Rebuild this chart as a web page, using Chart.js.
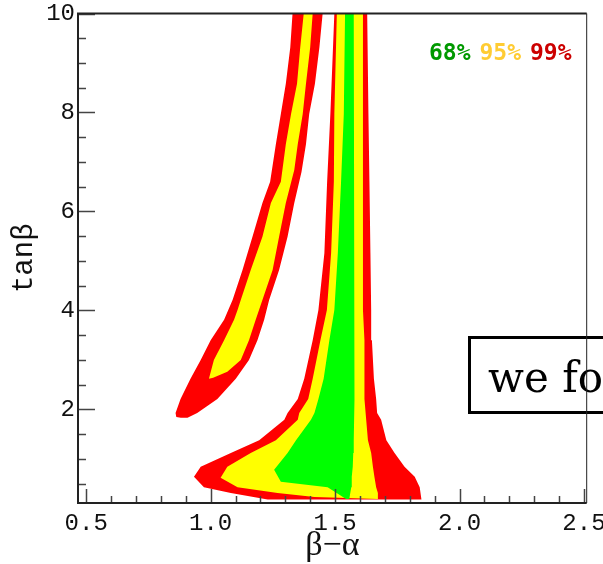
<!DOCTYPE html>
<html>
<head>
<meta charset="utf-8">
<script src="https://cdn.jsdelivr.net/npm/chart.js@4.4.1/dist/chart.umd.min.js"></script>
<style>
  html, body { margin: 0; padding: 0; background: #fff; }
  #wrap { width: 603px; height: 564px; }
</style>
</head>
<body>
<div id="wrap"><canvas id="chart" width="603" height="564"></canvas></div>
<script>
// confidence levels and their legend colours
const levels = ['68%', '95%', '99%'];
const legendColors = ['#009900', '#ffcc33', '#cc0000'];

// axis ticks
const xTicks = [0.5, 1.0, 1.5, 2.0, 2.5];
const yTicks = [2, 4, 6, 8, 10];

// contour outlines [beta-alpha, tanbeta]
// left (curved) band
const red99Left = [
  [1.329, 10], [1.320, 9.32], [1.302, 8.58], [1.282, 7.97], [1.262, 7.36],
  [1.239, 6.60], [1.208, 6.17], [1.168, 5.49], [1.128, 4.82], [1.088, 4.21],
  [1.054, 3.81], [1.000, 3.40], [0.960, 3.00], [0.919, 2.62], [0.879, 2.21],
  [0.859, 1.93], [0.862, 1.85], [0.880, 1.83], [0.907, 1.83], [0.946, 1.93],
  [1.027, 2.21], [1.101, 2.62], [1.154, 3.00], [1.188, 3.40], [1.215, 3.81],
  [1.235, 4.21], [1.275, 4.82], [1.309, 5.49], [1.336, 6.17], [1.365, 6.80],
  [1.383, 7.36], [1.396, 7.97], [1.419, 8.58], [1.437, 9.32], [1.450, 10]
];
const yellow95Left = [
  [1.374, 10], [1.360, 9.32], [1.347, 8.58], [1.323, 7.97], [1.302, 7.36],
  [1.282, 6.60], [1.242, 6.17], [1.208, 5.49], [1.161, 4.82], [1.121, 4.21],
  [1.108, 4.01], [1.094, 3.81], [1.054, 3.40], [1.013, 3.00], [0.993, 2.62],
  [1.010, 2.64], [1.067, 2.76], [1.121, 3.00], [1.154, 3.40], [1.181, 3.81],
  [1.208, 4.21], [1.249, 4.82], [1.275, 5.49], [1.302, 6.17], [1.336, 6.84],
  [1.350, 7.36], [1.370, 7.97], [1.383, 8.58], [1.400, 9.32], [1.410, 10]
];
// right (vertical) band with the wide foot
const red99Right = [
  [1.497, 10], [1.481, 7.97], [1.468, 6.60], [1.457, 5.16], [1.433, 4.01],
  [1.410, 3.40], [1.376, 2.62], [1.350, 2.21], [1.309, 1.93], [1.296, 1.79],
  [1.195, 1.38], [1.081, 1.12], [0.960, 0.84], [0.933, 0.64], [0.973, 0.43],
  [1.081, 0.31], [1.229, 0.18], [1.847, 0.18], [1.840, 0.43], [1.820, 0.64],
  [1.779, 0.84], [1.739, 1.12], [1.706, 1.38], [1.685, 1.79], [1.669, 1.93],
  [1.665, 2.21], [1.656, 2.62], [1.648, 3.40], [1.645, 4.01], [1.642, 5.16],
  [1.638, 6.60], [1.634, 7.97], [1.629, 10]
];
const yellow95Right = [
  [1.507, 10], [1.497, 7.97], [1.495, 6.60], [1.484, 5.16], [1.467, 4.01],
  [1.441, 3.40], [1.410, 2.62], [1.392, 2.21], [1.356, 1.93], [1.350, 1.79],
  [1.262, 1.38], [1.161, 1.12], [1.067, 0.84], [1.040, 0.62], [1.108, 0.43],
  [1.269, 0.31], [1.417, 0.23], [1.672, 0.19], [1.672, 0.31], [1.665, 0.43],
  [1.658, 0.64], [1.652, 0.84], [1.645, 1.12], [1.632, 1.38], [1.625, 1.79],
  [1.618, 2.21], [1.618, 3.40], [1.612, 4.01], [1.612, 6.84], [1.612, 10]
];
const green68Right = [
  [1.540, 10], [1.535, 7.97], [1.524, 6.60], [1.511, 5.16], [1.497, 4.01],
  [1.477, 3.40], [1.454, 2.62], [1.433, 2.21], [1.417, 1.93], [1.403, 1.79],
  [1.343, 1.38], [1.309, 1.12], [1.255, 0.78], [1.282, 0.54], [1.470, 0.43],
  [1.544, 0.19], [1.557, 0.19], [1.565, 0.43], [1.567, 0.64], [1.571, 0.84],
  [1.573, 1.12], [1.575, 1.38], [1.578, 2.21], [1.575, 10]
];

const toPoints = arr => arr.map(p => ({ x: p[0], y: p[1] }));

function region(label, pts, color) {
  return {
    label: label,
    data: toPoints(pts),
    showLine: true,
    fill: 'shape',
    backgroundColor: color,
    borderColor: color,
    borderWidth: 0,
    pointRadius: 0,
    tension: 0
  };
}

// index 0 is painted last (on top)
const datasets = [
  region(levels[0], green68Right, '#00ff00'),
  region(levels[1], yellow95Left, '#ffff00'),
  region(levels[1], yellow95Right, '#ffff00'),
  region(levels[2], red99Left, '#ff0000'),
  region(levels[2], red99Right, '#ff0000')
];

const decorations = {
  id: 'decorations',
  afterDatasetsDraw(chart) {
    const ctx = chart.ctx;
    const { left, right, top, bottom } = chart.chartArea;
    const xs = chart.scales.x, ys = chart.scales.y;
    ctx.save();

    // boxed note
    ctx.fillStyle = '#fff';
    ctx.fillRect(468, 336, 160, 78);
    ctx.lineWidth = 3;
    ctx.strokeStyle = '#000';
    ctx.strokeRect(469.5, 337.5, 160, 75);
    ctx.fillStyle = '#000';
    ctx.font = '42px "DejaVu Serif", serif';
    ctx.textBaseline = 'alphabetic';
    ctx.textAlign = 'left';
    ctx.fillText('we fo', 488, 392);

    // legend
    ctx.font = 'bold 23px "DejaVu Sans Mono", monospace';
    levels.forEach((t, i) => {
      ctx.fillStyle = legendColors[i];
      ctx.fillText(t, 429 + i * 50.5, 60);
    });

    // inward ticks
    ctx.strokeStyle = '#444';
    ctx.lineWidth = 1.5;
    ctx.beginPath();
    for (let v = 0.5; v <= 2.501; v += 0.1) {
      const major = xTicks.some(t => Math.abs(t - v) < 1e-6);
      const px = Math.round(xs.getPixelForValue(v)) + 0.5;
      ctx.moveTo(px, bottom);
      ctx.lineTo(px, bottom - (major ? 14 : 7));
    }
    for (let v = 0.5; v <= 10.001; v += 0.5) {
      const major = yTicks.some(t => Math.abs(t - v) < 1e-6);
      const py = Math.round(ys.getPixelForValue(v)) + 0.5;
      ctx.moveTo(left, py);
      ctx.lineTo(left + (major ? 17 : 8), py);
    }
    ctx.stroke();

    // frame
    ctx.strokeStyle = '#222';
    ctx.lineWidth = 2;
    ctx.beginPath();
    ctx.moveTo(right, top);
    ctx.lineTo(left, top);
    ctx.lineTo(left, bottom);
    ctx.lineTo(right, bottom);
    ctx.stroke();
    ctx.lineWidth = 1;
    ctx.beginPath();
    ctx.moveTo(right, top);
    ctx.lineTo(right, bottom);
    ctx.stroke();
    ctx.restore();
  }
};

new Chart(document.getElementById('chart'), {
  type: 'scatter',
  data: { datasets: datasets },
  plugins: [decorations],
  options: {
    responsive: false,
    animation: false,
    layout: { padding: { left: 0, top: 13.5, right: 16.3, bottom: 0 } },
    plugins: { legend: { display: false }, tooltip: { enabled: false } },
    scales: {
      x: {
        type: 'linear',
        min: 0.467,
        max: 2.511,
        afterFit: s => { s.height = 61; s.paddingLeft = 0; s.paddingRight = 0; },
        afterBuildTicks: s => { s.ticks = xTicks.map(v => ({ value: v })); },
        grid: { display: false, drawTicks: false },
        border: { display: false },
        ticks: {
          padding: 6,
          color: '#111',
          font: { family: 'Liberation Mono', size: 24 },
          callback: v => Number(v).toFixed(1)
        },
        title: {
          display: true,
          text: 'β−α',
          color: '#111',
          font: { family: 'Liberation Serif', size: 34, lineHeight: 1 },
          padding: { top: 0, bottom: 1 }
        }
      },
      y: {
        type: 'linear',
        min: 0.11,
        max: 10,
        afterFit: s => { s.width = 78; s.paddingTop = 0; s.paddingBottom = 0; },
        afterBuildTicks: s => { s.ticks = yTicks.map(v => ({ value: v })); },
        grid: { display: false, drawTicks: false },
        border: { display: false },
        ticks: {
          padding: 3,
          color: '#111',
          font: { family: 'Liberation Mono', size: 24 }
        },
        title: {
          display: true,
          text: 'tanβ',
          color: '#111',
          font: { family: 'Liberation Mono', size: 29, lineHeight: 1 },
          padding: { top: 10, bottom: 0 }
        }
      }
    }
  }
});
</script>
</body>
</html>
